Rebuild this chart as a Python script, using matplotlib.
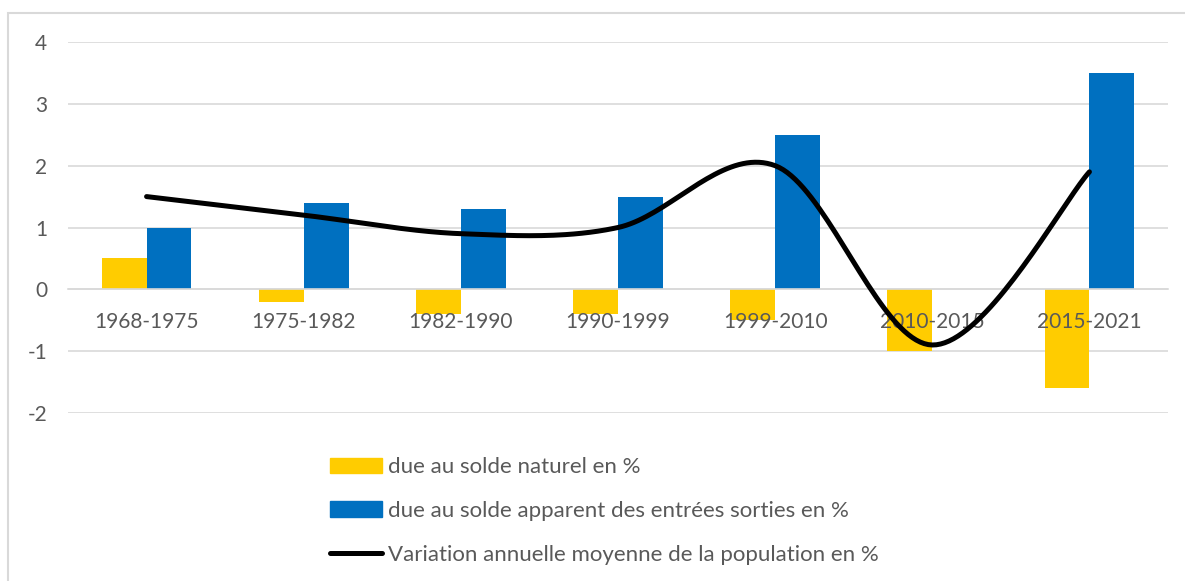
import numpy as np
import matplotlib
matplotlib.use("Agg")
import matplotlib.pyplot as plt
from matplotlib.patches import Rectangle, Patch
from matplotlib.lines import Line2D

periods = ["1968-1975", "1975-1982", "1982-1990", "1990-1999", "1999-2010", "2010-2015", "2015-2021"]
solde_naturel = [0.5, -0.2, -0.4, -0.4, -0.5, -1.0, -1.6]
solde_migratoire = [1.0, 1.4, 1.3, 1.5, 2.5, 0.0, 3.5]
variation = [1.5, 1.2, 0.9, 1.0, 2.0, -0.9, 1.9]
labels = ["due au solde naturel en %",
          "due au solde apparent des entrées sorties en %",
          "Variation annuelle moyenne de la population en %"]

YELLOW, BLUE, GREY_TXT, GRID = "#FFCC00", "#0070C0", "#595959", "#D9D9D9"
plt.rcParams["font.family"] = ["Lato", "DejaVu Sans"]
plt.rcParams["axes.unicode_minus"] = False
FS = 15


def smooth(x, y, n=40):
    """excel-like smoothed line: catmull-rom bezier through the points."""
    x, y = np.asarray(x, float), np.asarray(y, float)
    px = np.concatenate([[x[0]], x, [x[-1]]]); py = np.concatenate([[y[0]], y, [y[-1]]])
    xs, ys = [], []
    t = np.linspace(0, 1, n)[:, None]
    for i in range(1, len(px) - 2):
        p0 = np.array([px[i], py[i]]); p3 = np.array([px[i + 1], py[i + 1]])
        c1 = p0 + (p3 - np.array([px[i - 1], py[i - 1]])) / 6
        c2 = p3 - (np.array([px[i + 2], py[i + 2]]) - p0) / 6
        b = (1 - t) ** 3 * p0 + 3 * (1 - t) ** 2 * t * c1 + 3 * (1 - t) * t ** 2 * c2 + t ** 3 * p3
        xs.append(b[:, 0]); ys.append(b[:, 1])
    return np.concatenate(xs), np.concatenate(ys)


W, H = 1185, 581
fig = plt.figure(figsize=(W / 100, H / 100), dpi=100)
ax = fig.add_axes([68 / W, (H - 413) / H, (1168 - 68) / W, (413 - 42) / H])

x = np.arange(len(periods))
bw = 0.285
ax.bar(x - bw / 2, solde_naturel, bw, color=YELLOW, zorder=2)
ax.bar(x + bw / 2, solde_migratoire, bw, color=BLUE, zorder=2)
sx, sy = smooth(x, variation)
ax.plot(sx, sy, color="black", lw=3.6, solid_capstyle="round", zorder=5)

ax.set_xlim(-0.5, len(periods) - 0.5)
ax.set_ylim(-2, 4)
ax.set_yticks(range(-2, 5))
ax.yaxis.grid(True, color=GRID, lw=1.2, zorder=0)
ax.set_axisbelow(True)
for s in ["top", "right", "left"]:
    ax.spines[s].set_visible(False)
ax.spines["bottom"].set_position(("data", 0))
ax.spines["bottom"].set_color(GRID); ax.spines["bottom"].set_linewidth(1.2)
ax.set_xticks(x, [""] * len(x))
ax.tick_params(axis="x", length=0)
ax.tick_params(axis="y", length=0, pad=15, labelsize=FS, labelcolor=GREY_TXT)
# category labels sit on top of the bars, under the line
for xi, p in zip(x, periods):
    ax.annotate(p, (xi, 0), xytext=(0, -28), textcoords="offset points", ha="center", va="baseline",
                fontsize=FS, color=GREY_TXT, zorder=4, annotation_clip=False)

handles = [Patch(color=YELLOW), Patch(color=BLUE), Line2D([], [], color="black", lw=3.6, solid_capstyle="round")]
fig.legend(handles, labels, loc="upper left", bbox_to_anchor=(330 / W, (H - 457) / H), frameon=False,
           fontsize=16, labelcolor=GREY_TXT, handlelength=2.35, handleheight=0.68, handletextpad=0.27,
           labelspacing=1.07, borderpad=0, borderaxespad=0)

fig.add_artist(Rectangle((8 / W, -0.1), 1.2, (H - 13) / H + 0.1, transform=fig.transFigure,
                         fill=False, edgecolor=GRID, lw=1.5))
fig.savefig("out.png", dpi=100, facecolor="white")
